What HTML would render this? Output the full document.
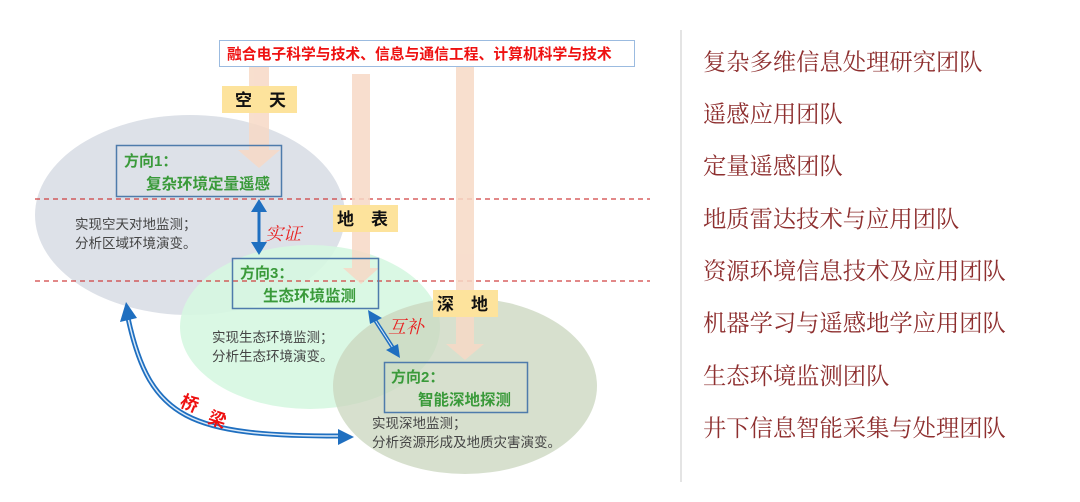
<!DOCTYPE html>
<html><head><meta charset="utf-8"><style>
html,body{margin:0;padding:0;background:#fff;}
svg{display:block;}
.cn{font-family:"Liberation Sans","Noto Sans CJK SC",sans-serif;}
.sf{font-family:"Liberation Serif","Noto Serif CJK SC",serif;}
</style></head><body>
<svg width="1080" height="502" viewBox="0 0 1080 502" xmlns="http://www.w3.org/2000/svg">
<ellipse cx="190" cy="215" rx="155" ry="100" fill="#dde1e8"/>
<ellipse cx="310" cy="327" rx="130" ry="82" fill="#d6f7e1" opacity="0.9"/>
<ellipse cx="465" cy="386" rx="132" ry="88" fill="#c9d6be" opacity="0.75"/>
<line x1="35" y1="199" x2="650" y2="199" stroke="#d04040" stroke-width="1.3" stroke-dasharray="5,4"/>
<line x1="35" y1="281" x2="650" y2="281" stroke="#d04040" stroke-width="1.3" stroke-dasharray="5,4"/>
<g fill="#f7d9c6" opacity="0.85">
<rect x="249" y="66" width="20" height="86"/><path d="M238,150 L280,150 L259,168 Z"/>
<rect x="352" y="74" width="18" height="196"/><path d="M343,268 L379,268 L361,284 Z"/>
<rect x="456" y="66" width="18" height="280"/><path d="M446,344 L484,344 L465,360 Z"/>
</g>
<rect x="219.5" y="40.5" width="415" height="26" fill="#fff" stroke="#9bbbe0"/>
<text x="227" y="59" class="cn" font-size="14.8" font-weight="bold" fill="#ee1111">融合电子科学与技术、信息与通信工程、计算机科学与技术</text>
<rect x="222" y="86" width="75" height="27" fill="#fde39c"/>
<text x="235" y="106" class="cn" font-size="17" font-weight="bold" fill="#111">空　天</text>
<rect x="333" y="205" width="65" height="27" fill="#fde39c"/>
<text x="337" y="225" class="cn" font-size="17" font-weight="bold" fill="#111">地　表</text>
<rect x="433" y="290" width="65" height="27" fill="#fde39c"/>
<text x="437" y="310" class="cn" font-size="17" font-weight="bold" fill="#111">深　地</text>
<rect x="116.5" y="145.5" width="165" height="51" fill="none" stroke="#4e7bab" stroke-width="1.5"/>
<text x="124" y="166" class="cn" font-size="15" font-weight="bold" fill="#3a9a3a">方向1：</text>
<text x="146" y="189" class="cn" font-size="15.5" font-weight="bold" fill="#3a9a3a">复杂环境定量遥感</text>
<rect x="232.5" y="258.5" width="146" height="50" fill="none" stroke="#4e7bab" stroke-width="1.5"/>
<text x="240" y="278" class="cn" font-size="15" font-weight="bold" fill="#3a9a3a">方向3：</text>
<text x="263" y="301" class="cn" font-size="15.5" font-weight="bold" fill="#3a9a3a">生态环境监测</text>
<rect x="384.5" y="362.5" width="143" height="50" fill="none" stroke="#4e7bab" stroke-width="1.5"/>
<text x="391" y="382" class="cn" font-size="15" font-weight="bold" fill="#3a9a3a">方向2：</text>
<text x="418" y="405" class="cn" font-size="15.5" font-weight="bold" fill="#3a9a3a">智能深地探测</text>
<g class="cn" font-size="13.5" fill="#444">
<text x="75" y="229">实现空天对地监测；</text><text x="75" y="248">分析区域环境演变。</text>
<text x="212" y="342">实现生态环境监测；</text><text x="212" y="361">分析生态环境演变。</text>
<text x="372" y="428">实现深地监测；</text><text x="372" y="447">分析资源形成及地质灾害演变。</text>
</g>
<line x1="259" y1="210" x2="259" y2="244" stroke="#1f6fc0" stroke-width="3"/>
<path d="M251,212 L259,199 L267,212 Z M251,242 L259,255 L267,242 Z" fill="#1f6fc0"/>
<text x="265" y="240" class="sf" font-size="18" font-style="italic" fill="#e82020">实证</text>
<line x1="375" y1="320" x2="393" y2="348" stroke="#1f6fc0" stroke-width="4"/>
<line x1="375" y1="320" x2="393" y2="348" stroke="#dbeaf8" stroke-width="1"/>
<path d="M368,310 L382,318 L370,324 Z M400,358 L386,350 L398,344 Z" fill="#1f6fc0"/>
<text x="388" y="333" class="sf" font-size="18" font-style="italic" fill="#e82020">互补</text>
<path d="M128,318 C150,420 190,436 340,436" fill="none" stroke="#1f6fc0" stroke-width="5"/>
<path d="M128,318 C150,420 190,436 340,436" fill="none" stroke="#dbeaf8" stroke-width="1.5"/>
<path d="M120,322 L126,302 L137,318 Z M338,429 L354,437 L338,445 Z" fill="#1f6fc0"/>
<text x="180" y="410" class="cn" font-size="18" font-weight="bold" fill="#ee1111" transform="rotate(22 190 405)">桥</text>
<text x="208" y="425" class="cn" font-size="18" font-weight="bold" fill="#ee1111" transform="rotate(18 215 420)">梁</text>
<line x1="681" y1="30" x2="681" y2="482" stroke="#dcdcdc" stroke-width="1.5"/>
<g class="sf" font-size="23.3" fill="#8e2f2f">
<text x="703" y="70">复杂多维信息处理研究团队</text>
<text x="703" y="122">遥感应用团队</text>
<text x="703" y="174">定量遥感团队</text>
<text x="703" y="227">地质雷达技术与应用团队</text>
<text x="703" y="279">资源环境信息技术及应用团队</text>
<text x="703" y="331">机器学习与遥感地学应用团队</text>
<text x="703" y="384">生态环境监测团队</text>
<text x="703" y="436">井下信息智能采集与处理团队</text>
</g>
</svg>
</body></html>
